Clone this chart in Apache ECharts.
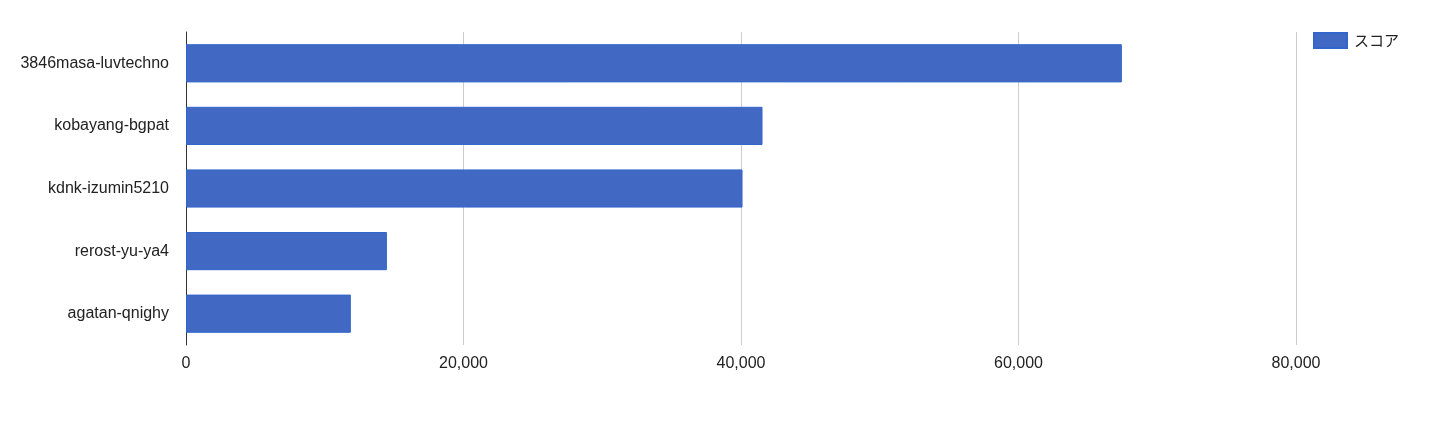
<!DOCTYPE html>
<html>
<head>
<meta charset="utf-8">
<script src="https://cdn.jsdelivr.net/npm/echarts@6/dist/echarts.min.js"></script>
<style>html,body{margin:0;padding:0;background:#fff;}#c{width:1440px;height:424px;}</style>
</head>
<body>
<div id="c"></div>
<script>
const categories = ["3846masa-luvtechno", "kobayang-bgpat", "kdnk-izumin5210", "rerost-yu-ya4", "agatan-qnighy"];
const scores = [67450, 41550, 40110, 14480, 11880];
const seriesName = "スコア";
const xTicks = [0, 20000, 40000, 60000, 80000];

const chart = echarts.init(document.getElementById('c'), null, {renderer: 'canvas'});
chart.setOption({
  animation: false,
  textStyle: {fontFamily: 'Liberation Sans, Arial, sans-serif'},
  legend: {
    left: 1313, top: 32, padding: 0,
    itemWidth: 33, itemHeight: 15, itemGap: 7,
    icon: 'rect',
    textStyle: {fontSize: 15, color: '#222', fontFamily: 'Noto Sans CJK JP, sans-serif', padding: [0,0,0,2]},
    data: [seriesName]
  },
  grid: {left: 186, right: 144, top: 32, height: 313, containLabel: false},
  xAxis: {
    type: 'value', min: xTicks[0], max: xTicks[xTicks.length-1], interval: xTicks[1]-xTicks[0],
    axisLine: {show: false}, axisTick: {show: false},
    axisLabel: {fontSize: 16, color: '#222', margin: 11,
      formatter: v => v.toLocaleString('en-US')},
    splitLine: {show: true, lineStyle: {color: '#cccccc', width: 1}}
  },
  yAxis: {
    type: 'category', data: categories, inverse: true,
    axisLine: {show: true, lineStyle: {color: '#333', width: 1}},
    axisTick: {show: false},
    axisLabel: {fontSize: 16, color: '#222', margin: 17}
  },
  series: [{
    name: seriesName, type: 'bar', data: scores,
    barCategoryGap: '39%',
    itemStyle: {color: '#4169c3', borderColor: '#3366cc', borderWidth: 1}
  }]
});
</script>
</body>
</html>
